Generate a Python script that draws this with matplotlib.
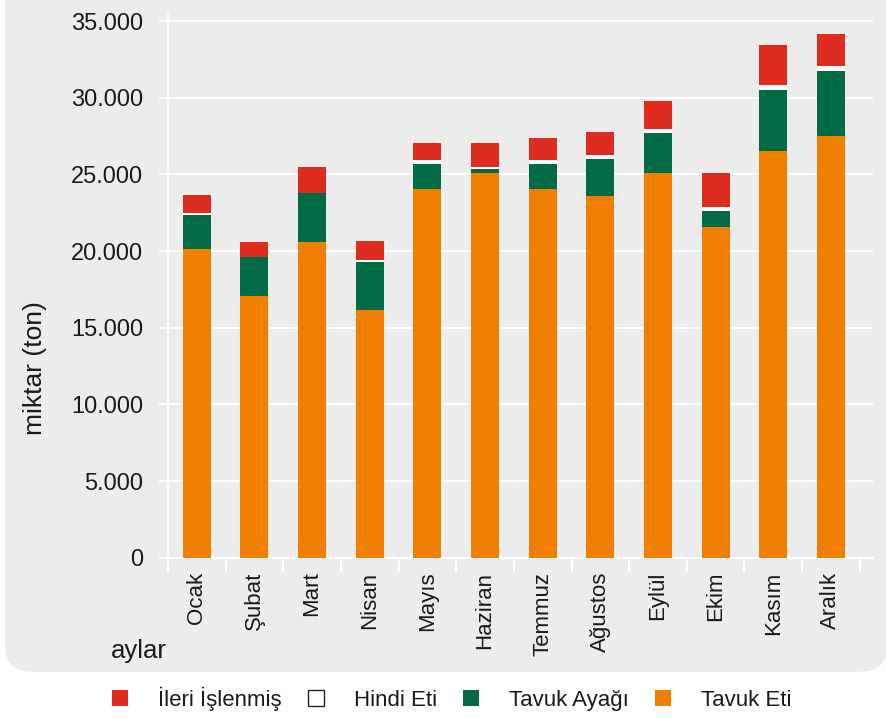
import numpy as np
import matplotlib
matplotlib.use("Agg")
import matplotlib.pyplot as plt
import matplotlib.patches as patches
from matplotlib.transforms import IdentityTransform

plt.rcParams['font.family'] = ['Liberation Sans', 'DejaVu Sans']

# --- data (ton) ---
months = ["Ocak", "Şubat", "Mart", "Nisan", "Mayıs", "Haziran",
          "Temmuz", "Ağustos", "Eylül", "Ekim", "Kasım", "Aralık"]
tavuk_eti = [20120, 17080, 20580, 16150, 24040, 25080, 24040, 23570, 25080, 21560, 26510, 27480]
tavuk_ayagi = [2210, 2520, 3200, 3110, 1630, 260, 1630, 2410, 2600, 1040, 3980, 4240]
hindi_eti = [130, 0, 0, 150, 260, 130, 260, 260, 260, 260, 330, 330]
ileri_islenmis = [1170, 980, 1690, 1230, 1100, 1560, 1420, 1500, 1830, 2220, 2600, 2090]

series_names = ["İleri İşlenmiş", "Hindi Eti", "Tavuk Ayağı", "Tavuk Eti"]
yticks = [0, 5000, 10000, 15000, 20000, 25000, 30000, 35000]
ytick_labels = ["0", "5.000", "10.000", "15.000", "20.000", "25.000", "30.000", "35.000"]

C_ORANGE = "#F07F00"
C_GREEN = "#006B45"
C_RED = "#DE2C1E"
C_WHITE = "#FFFFFF"
C_PANEL = "#EBECEB"
C_TEXT = "#1A1A1A"

W, H = 887, 719
fig = plt.figure(figsize=(W / 100, H / 100), dpi=100)
fig.patch.set_facecolor("white")

# rounded grey panel behind the chart (pixel coords)
panel = patches.FancyBboxPatch((5, H - 671.7), 882, 671.7 + 30,
                               boxstyle="round,pad=0,rounding_size=26",
                               transform=IdentityTransform(),
                               facecolor=C_PANEL, edgecolor="none", zorder=0)
fig.add_artist(panel)

ax = fig.add_axes([168 / W, 1 - 557.7 / H, (873 - 168) / W, (557.7 - 15) / H])
ax.set_facecolor("none")

x = np.arange(len(months))
bw = 0.486
te = np.array(tavuk_eti)
ta = np.array(tavuk_ayagi)
he = np.array(hindi_eti)
ii = np.array(ileri_islenmis)

ax.bar(x, te, bw, color=C_ORANGE, zorder=3)
ax.bar(x, ta, bw, bottom=te, color=C_GREEN, zorder=3)
ax.bar(x, he, bw, bottom=te + ta, color=C_WHITE, zorder=3)
ax.bar(x, ii, bw, bottom=te + ta + he, color=C_RED, zorder=3)

ax.set_xlim(-0.5, 11.73)
ax.set_ylim(0, 35400)

ax.set_yticks(yticks)
ax.set_yticklabels(ytick_labels)
ax.yaxis.grid(True, color="white", linewidth=1.5, zorder=1)
ax.set_axisbelow(True)

ax.set_xticks(x)
ax.set_xticklabels(months, rotation=90, va="top", ha="center")
ax.set_xticks(np.arange(-0.5, 12, 1), minor=True)

ax.tick_params(axis="y", length=6.5, width=1.5, color="white", pad=11.5,
               labelsize=17, labelcolor=C_TEXT)
ax.tick_params(axis="x", which="major", length=0, pad=10,
               labelsize=16, labelcolor=C_TEXT)
ax.tick_params(axis="x", which="minor", length=10, width=1.5, color="white")

for s in ["top", "right"]:
    ax.spines[s].set_visible(False)
for s in ["left", "bottom"]:
    ax.spines[s].set_color("white")
    ax.spines[s].set_linewidth(1.5)

fig.text(35 / W, 1 - 368 / H, "miktar (ton)", rotation=90, ha="center", va="center",
         fontsize=19, color=C_TEXT)
fig.text(167 / W, 1 - 658 / H, "aylar", ha="right", va="baseline",
         fontsize=18.5, color=C_TEXT)

handles = [
    patches.Patch(facecolor=C_RED, edgecolor="none"),
    patches.Patch(facecolor="white", edgecolor="#222222", linewidth=1.0),
    patches.Patch(facecolor=C_GREEN, edgecolor="none"),
    patches.Patch(facecolor=C_ORANGE, edgecolor="none"),
]
fig.legend(handles, series_names, loc="center", bbox_to_anchor=(451.5 / W, 1 - 698.7 / H),
           ncol=4, frameon=False, fontsize=16, handlelength=0.72, handleheight=0.72,
           handletextpad=1.35, columnspacing=1.17, labelcolor=C_TEXT)

fig.savefig("out.png", dpi=100)
